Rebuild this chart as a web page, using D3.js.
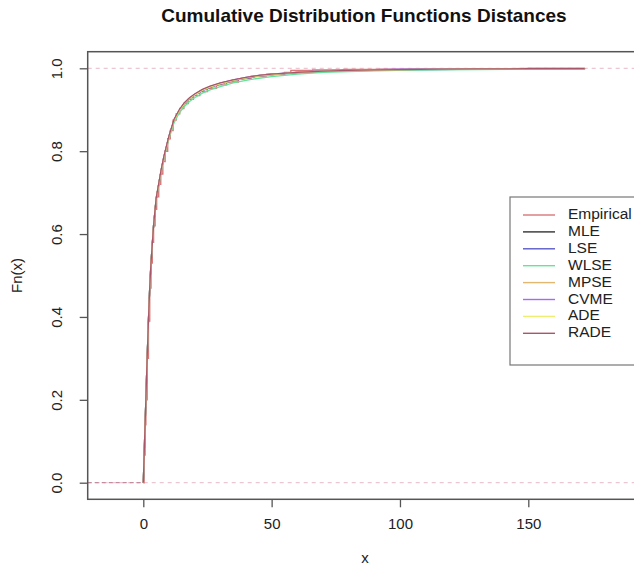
<!DOCTYPE html>
<html>
<head>
<meta charset="utf-8">
<script src="https://cdn.jsdelivr.net/npm/d3@7"></script>
<style>
  body { margin: 0; background: #fff; }
  svg { display: block; font-family: "Liberation Sans", Arial, sans-serif; }
</style>
</head>
<body>
<div id="chart"></div>
<script>
(function() {
  var W = 634, H = 568;

  var seriesNames = ["Empirical", "MLE", "LSE", "WLSE", "MPSE", "CVME", "ADE", "RADE"];
  var seriesColors = ["#d87878", "#333333", "#5a5ac8", "#66e39a", "#e2b870", "#a56af2", "#eeee70", "#a8566a"];

  var xTicks = [0, 50, 100, 150];
  var yTicks = [0.0, 0.2, 0.4, 0.6, 0.8, 1.0];

  // empirical step function knots
  var empX = [0.3, 0.7, 1.0, 1.5, 2.0, 2.5, 3.0, 3.5, 4.0, 4.6, 5.2, 6.0, 6.8, 7.6, 8.5, 9.5, 10.5, 11.6, 12.8, 14.2,
    15.8, 17.5, 19.5, 22.0, 25.0, 28.5, 32.5, 37.0, 42.0, 48.0, 55.0, 57.5, 66.0, 78.0, 92.0, 115.0, 150.0, 172.0];
  var empY = [0.067, 0.14, 0.20, 0.30, 0.39, 0.47, 0.53, 0.58, 0.62, 0.66, 0.69, 0.72, 0.745, 0.775, 0.80, 0.83, 0.85, 0.875, 0.89, 0.903,
    0.915, 0.925, 0.934, 0.944, 0.952, 0.96, 0.967, 0.975, 0.981, 0.986, 0.99, 0.995, 0.996, 0.997, 0.998, 0.999, 0.9995, 1.0];

  // fitted cdf values on a common grid
  var fitX = [0, 0.5, 1, 1.5, 2, 2.5, 3, 4, 5, 6, 7, 8, 9, 10, 12, 14, 16, 18, 20, 23, 26, 30, 35, 40, 45, 50, 60, 70, 80, 90, 100, 115, 130, 150, 172];
  var mleY = [0, 0.10, 0.20, 0.30, 0.39, 0.47, 0.53, 0.62, 0.685, 0.72, 0.755, 0.785, 0.81, 0.835, 0.875, 0.898, 0.915, 0.927, 0.936, 0.947,
    0.955, 0.963, 0.971, 0.977, 0.982, 0.985, 0.990, 0.993, 0.995, 0.996, 0.997, 0.998, 0.9985, 0.999, 0.9993];
  var lseY = [0, 0.10, 0.20, 0.30, 0.39, 0.47, 0.53, 0.62, 0.683, 0.719, 0.754, 0.784, 0.809, 0.834, 0.874, 0.897, 0.914, 0.926, 0.935, 0.946,
    0.954, 0.962, 0.970, 0.976, 0.981, 0.984, 0.989, 0.992, 0.994, 0.995, 0.996, 0.997, 0.998, 0.9985, 0.999];
  var wlseY = [0, 0.10, 0.20, 0.30, 0.39, 0.47, 0.53, 0.62, 0.683, 0.718, 0.752, 0.782, 0.806, 0.83, 0.869, 0.892, 0.908, 0.92, 0.929, 0.94,
    0.948, 0.956, 0.965, 0.971, 0.976, 0.980, 0.986, 0.990, 0.992, 0.994, 0.995, 0.996, 0.997, 0.998, 0.9985];
  var mpseY = [0, 0.10, 0.20, 0.30, 0.39, 0.47, 0.53, 0.62, 0.684, 0.72, 0.755, 0.785, 0.81, 0.835, 0.875, 0.898, 0.915, 0.927, 0.936, 0.947,
    0.955, 0.963, 0.971, 0.977, 0.982, 0.985, 0.990, 0.993, 0.995, 0.996, 0.997, 0.998, 0.9985, 0.999, 0.9993];
  var cvmeY = [0, 0.10, 0.20, 0.30, 0.39, 0.47, 0.53, 0.62, 0.684, 0.72, 0.755, 0.786, 0.811, 0.836, 0.876, 0.899, 0.916, 0.928, 0.937, 0.948,
    0.956, 0.964, 0.972, 0.978, 0.983, 0.986, 0.991, 0.994, 0.996, 0.997, 0.998, 0.999, 0.9992, 0.9995, 0.9997];
  var adeY = [0, 0.10, 0.20, 0.30, 0.39, 0.47, 0.53, 0.62, 0.685, 0.72, 0.755, 0.785, 0.81, 0.835, 0.875, 0.898, 0.915, 0.927, 0.936, 0.947,
    0.955, 0.963, 0.971, 0.977, 0.982, 0.985, 0.990, 0.993, 0.995, 0.996, 0.997, 0.998, 0.9985, 0.999, 0.9993];
  var radeY = [0, 0.10, 0.20, 0.30, 0.39, 0.47, 0.53, 0.62, 0.686, 0.722, 0.757, 0.787, 0.812, 0.837, 0.877, 0.9, 0.917, 0.929, 0.938, 0.949,
    0.957, 0.965, 0.972, 0.978, 0.983, 0.986, 0.990, 0.993, 0.995, 0.996, 0.997, 0.998, 0.9985, 0.999, 0.9993];
  var fitted = [mleY, lseY, wlseY, mpseY, cvmeY, adeY, radeY];

  var x = d3.scaleLinear().domain([0, 150]).range([143.3, 528.3]);
  var y = d3.scaleLinear().domain([0, 1]).range([482.7, 68.3]);
  var left = 87.7, right = 642, top = 51.7, bottom = 499.3;

  var svg = d3.select("#chart").append("svg").attr("width", W).attr("height", H);

  svg.append("text").attr("x", 364).attr("y", 22).attr("text-anchor", "middle")
    .style("font-size", "19px").style("font-weight", "bold").style("fill", "#111")
    .text("Cumulative Distribution Functions Distances");

  var plot = svg.append("g");

  // reference lines at 0 and 1
  plot.selectAll("line.ref").data([0, 1]).enter().append("line").attr("class", "ref")
    .attr("x1", left).attr("x2", right).attr("y1", function(d) { return y(d); }).attr("y2", function(d) { return y(d); })
    .style("stroke", "#ecc6d0").style("stroke-width", 1.3).style("stroke-dasharray", "4,4");

  plot.append("line").attr("x1", left).attr("x2", x(0)).attr("y1", y(0)).attr("y2", y(0))
    .style("stroke", "#c28c9c").style("stroke-width", 1.3).style("stroke-dasharray", "4,3");

  var empPts = [[0, 0]];
  for (var i = 0; i < empX.length; i++) empPts.push([empX[i], empY[i]]);

  var stepLine = d3.line().x(function(d) { return x(d[0]); }).y(function(d) { return y(d[1]); }).curve(d3.curveStepAfter);
  var fitLine = d3.line().x(function(d) { return x(d[0]); }).y(function(d) { return y(d[1]); });

  plot.append("path").attr("d", stepLine(empPts)).style("fill", "none")
    .style("stroke", seriesColors[0]).style("stroke-width", 1.4);

  fitted.forEach(function(vals, k) {
    var pts = fitX.map(function(v, j) { return [v, vals[j]]; });
    plot.append("path").attr("d", fitLine(pts)).style("fill", "none")
      .style("stroke", seriesColors[k + 1]).style("stroke-width", 1.3);
  });

  // frame
  svg.append("rect").attr("x", left).attr("y", top).attr("width", right - left).attr("height", bottom - top)
    .style("fill", "none").style("stroke", "#555").style("stroke-width", 1.5);

  var xAxis = svg.append("g").attr("transform", "translate(0," + bottom + ")")
    .call(d3.axisBottom(x).tickValues(xTicks).tickSize(8).tickPadding(11).tickFormat(d3.format("d")));
  xAxis.select(".domain").remove();
  xAxis.selectAll("line").style("stroke", "#555").style("stroke-width", 1.3);
  xAxis.selectAll("text").style("font-size", "15px").style("fill", "#222").style("font-family", "Liberation Sans, Arial, sans-serif");

  var yAxis = svg.append("g").attr("transform", "translate(" + left + ",0)")
    .call(d3.axisLeft(y).tickValues(yTicks).tickSize(8).tickFormat(d3.format(".1f")));
  yAxis.select(".domain").remove();
  yAxis.selectAll("line").style("stroke", "#555").style("stroke-width", 1.3);
  yAxis.selectAll("text").attr("x", null).attr("dy", null)
    .attr("transform", "translate(-30,0) rotate(-90)").attr("text-anchor", "middle").attr("dominant-baseline", "middle")
    .style("font-size", "15px").style("fill", "#222").style("font-family", "Liberation Sans, Arial, sans-serif");

  svg.append("text").attr("x", 365).attr("y", 563).attr("text-anchor", "middle")
    .style("font-size", "15px").style("fill", "#222").text("x");
  svg.append("text").attr("transform", "translate(22," + ((top + bottom) / 2) + ") rotate(-90)")
    .attr("text-anchor", "middle").style("font-size", "15px").style("fill", "#222").text("Fn(x)");

  // legend
  var lg = svg.append("g");
  lg.append("rect").attr("x", 510).attr("y", 197).attr("width", 150).attr("height", 168)
    .style("fill", "#fff").style("stroke", "#777").style("stroke-width", 1.2);
  var rows = lg.selectAll("g.row").data(seriesNames).enter().append("g").attr("class", "row")
    .attr("transform", function(d, i) { return "translate(0," + (215 + i * 16.9) + ")"; });
  rows.append("line").attr("x1", 523).attr("x2", 555)
    .style("stroke", function(d, i) { return seriesColors[i]; }).style("stroke-width", 1.4);
  rows.append("text").attr("x", 568).attr("dominant-baseline", "middle")
    .style("font-size", "15.5px").style("fill", "#222").text(function(d) { return d; });
}).call(this);
</script>
</body>
</html>
